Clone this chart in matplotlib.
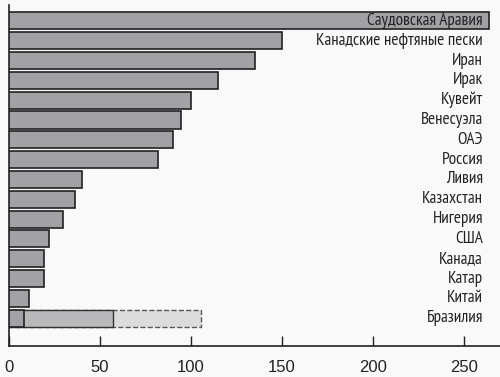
import matplotlib.pyplot as plt

countries = ["Саудовская Аравия", "Канадские нефтяные пески", "Иран", "Ирак",
             "Кувейт", "Венесуэла", "ОАЭ", "Россия", "Ливия", "Казахстан",
             "Нигерия", "США", "Канада", "Катар", "Китай", "Бразилия"]
reserves = [264, 150, 135, 115, 100, 94.5, 90, 82, 40, 36, 29.5, 22, 19, 19, 11, 8]
# Brazil: extra segments (probable, possible)
brazil_mid = 57
brazil_dash = 105.5
ticks = [0, 50, 100, 150, 200, 250]

label_fonts = ["PT Sans Narrow", "Liberation Sans", "DejaVu Sans"]
tick_fonts = ["Liberation Sans", "DejaVu Sans"]

bg = "#f9f9f9"
fig = plt.figure(figsize=(5, 3.77), dpi=100, facecolor=bg)
ax = fig.add_axes([0.018, 0.082, 0.982, 0.905], facecolor=bg)

y = list(range(len(countries)))
h = 0.86
last = len(countries) - 1

ax.barh(last, brazil_dash, height=h, color="#dcdcdc", edgecolor="#555555",
        linestyle="--", linewidth=1.0, zorder=1)
ax.barh(last, brazil_mid, height=h, color="#b9b9bb", edgecolor="#333333",
        linewidth=1.0, zorder=2)
ax.barh(y, reserves, height=h, color="#a2a2a6", edgecolor="#222222",
        linewidth=1.2, zorder=3)

for yi, name in zip(y, countries):
    ax.text(260.5, yi, name, ha="right", va="center", fontsize=12.3,
            family=label_fonts, color="#222222", zorder=5)

ax.set_xlim(0, 269.8)
ax.set_ylim(last + 1.41, -0.81)
ax.set_xticks(ticks)
ax.set_yticks([])
ax.tick_params(axis="x", direction="in", length=7, width=1, color="#222222",
               labelsize=12, labelcolor="#222222", pad=10)
for lbl in ax.get_xticklabels():
    lbl.set_family(tick_fonts)
for s in ["top", "right"]:
    ax.spines[s].set_visible(False)
for s in ["left", "bottom"]:
    ax.spines[s].set_color("#222222")
    ax.spines[s].set_linewidth(1.2)

fig.savefig("out.png", dpi=100, facecolor=bg)
